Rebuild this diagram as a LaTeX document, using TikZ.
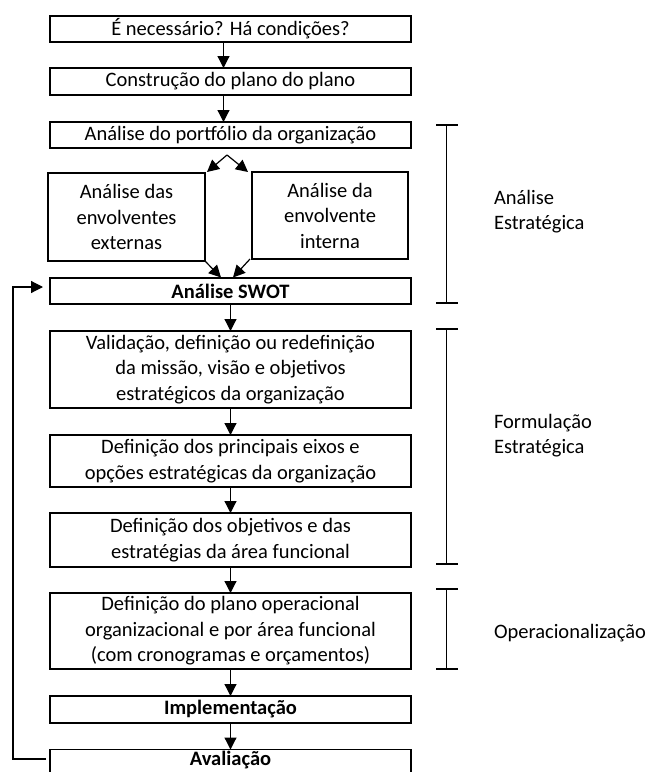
\documentclass[tikz,border=0pt]{standalone}
\usepackage{fontspec}
\setmainfont{Carlito}
\usetikzlibrary{arrows.meta}
\begin{document}
\begin{tikzpicture}[x=1pt,y=-1pt,
  every node/.style={font=\fontsize{20.5}{25.5}\selectfont, inner sep=0pt, outer sep=0pt},
  box/.style={draw, line width=1.2pt, align=center, minimum width=361pt},
  arr/.style={-{Triangle[width=12pt,length=12pt]}, line width=1.2pt},
  brk/.style={line width=1.2pt},
  lbl/.style={anchor=west, align=left}]
\useasboundingbox (0,0) rectangle (652,772);
\clip (0,0) rectangle (652,772);
\node[box, minimum height=26pt] (b1) at (230.5,29) {É necessário? Há condições?};
\node[box, minimum height=27pt] (b2) at (230.5,81.5) {Construção do plano do plano};
\node[box, minimum height=26pt] (b3) at (230.5,135) {Análise do portfólio da organização};
\node[box, minimum width=157pt, minimum height=88pt] (bl) at (126.5,217) {Análise das\\envolventes\\externas};
\node[box, minimum width=156pt, minimum height=87pt] (br) at (330,215.5) {Análise da\\envolvente\\interna};
\node[box, minimum height=26pt] (sw) at (230.5,291) {\bfseries Análise SWOT};
\node[box, minimum height=77pt] (v) at (230.5,369.5) {Validação, definição ou redefinição\\da missão, visão e objetivos\\estratégicos da organização};
\node[box, minimum height=52pt] (p) at (230.5,461) {Definição dos principais eixos e\\opções estratégicas da organização};
\node[box, minimum height=54pt] (o) at (230.5,540) {Definição dos objetivos e das\\estratégias da área funcional};
\node[box, minimum height=76pt] (op) at (230.5,631) {Definição do plano operacional\\organizacional e por área funcional\\(com cronogramas e orçamentos)};
\node[box, minimum height=27pt] (im) at (230.5,709.5) {\bfseries Implementação};
\node[minimum width=361pt, minimum height=22pt] (av) at (230.5,760.5) {\bfseries Avaliação};
\draw[line width=1.2pt] ([yshift=-12pt]av.south west) -- (av.north west) -- (av.north east) -- ([yshift=-12pt]av.south east);
% vertical arrows
\draw[arr] ([xshift=-7pt]b1.south) -- ([xshift=-7pt]b2.north);
\draw[arr] ([xshift=-7pt]b2.south) -- ([xshift=-7pt]b3.north);
\coordinate (apex) at (227,155);
\coordinate (tl) at (207,172);
\coordinate (tr) at (248,172);
\draw[arr] (apex) -- (tl);
\draw[arr] (apex) -- (tr);
\coordinate (sl) at (221,277.5);
\coordinate (sr) at (233,277.5);
\draw[arr] (bl.south east) -- (sl);
\draw[arr] ([xshift=-2pt]br.south west) -- (sr);
\draw[arr] (sw) -- (v);
\draw[arr] (v) -- (p);
\draw[arr] (p) -- (o);
\draw[arr] (o) -- (op);
\draw[arr] (op) -- (im);
\draw[arr] (im) -- (av);
% feedback loop
\coordinate (fbs) at (46,759);
\coordinate (fbe) at (43,287);
\draw[arr] (fbs) -- (13,759) -- (13,287) -- (fbe);
% brackets
\draw[brk] (446.7,125) -- (446.7,303) (436,125) -- (458,125) (436,303) -- (458,303);
\draw[brk] (446.7,329) -- (446.7,564) (436,329) -- (458,329) (436,564) -- (458,564);
\draw[brk] (446.7,589) -- (446.7,669) (436,589) -- (458,589) (436,669) -- (458,669);
\node[lbl] (l1) at (494,211.5) {Análise\\Estratégica};
\node[lbl] (l2) at (494,435.5) {Formulação\\Estratégica};
\node[lbl] (l3) at (494,633) {Operacionalização};
\end{tikzpicture}
\end{document}
